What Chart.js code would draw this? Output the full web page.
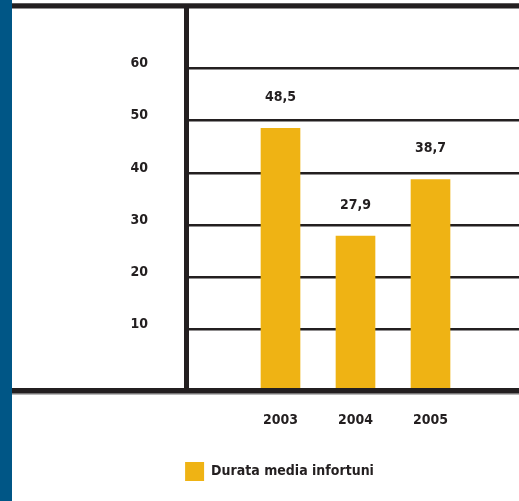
<!DOCTYPE html>
<html>
<head>
<meta charset="utf-8">
<script src="https://cdn.jsdelivr.net/npm/chart.js@4.4.0/dist/chart.umd.min.js"></script>
<style>
  html, body { margin: 0; padding: 0; background: #fff; }
  #wrap { width: 519px; height: 501px; }
</style>
</head>
<body>
<div id="wrap"><canvas id="infortuniChart" width="519" height="501"></canvas></div>
<script>
const years = [2003, 2004, 2005];
const durata = [48.5, 27.9, 38.7];
const yTicks = [10, 20, 30, 40, 50, 60];
const seriesLabel = 'Durata media infortuni';

const ink = '#231f20';
const gold = '#efb314';
const blue = '#005686';
const font = { family: "'Liberation Sans Narrow', 'DejaVu Sans Condensed', sans-serif", weight: 'bold', size: 14 };

const yMin = -1.73;
const yMax = 71.92;

// side strip, frame lines and value labels
const decor = {
    id: 'decor',
    beforeDraw(chart) {
        const ctx = chart.ctx;
        ctx.save();
        ctx.fillStyle = blue;
        ctx.fillRect(0, 0, 12, chart.height);
        ctx.restore();
    },
    afterDatasetsDraw(chart) {
        const ctx = chart.ctx;
        const y = chart.scales.y;
        const area = chart.chartArea;
        ctx.save();
        // top rule
        ctx.fillStyle = '#9a9a9a';
        ctx.fillRect(12, area.top - 3, chart.width - 12, 1);
        ctx.fillStyle = ink;
        ctx.fillRect(12, area.top - 2.5, chart.width - 12, 5);
        // base rule
        const by = y.getPixelForValue(yMin);
        ctx.fillStyle = '#9a9a9a';
        ctx.fillRect(12, by + 2.5, chart.width - 12, 1.2);
        ctx.fillStyle = ink;
        ctx.fillRect(12, by - 3, chart.width - 12, 5.5);

        // values above bars
        const meta = chart.getDatasetMeta(0);
        ctx.font = `${font.weight} ${font.size}px ${font.family}`;
        ctx.fillStyle = ink;
        ctx.textAlign = 'center';
        ctx.textBaseline = 'middle';
        meta.data.forEach((bar, i) => {
            ctx.fillText(durata[i].toFixed(1).replace('.', ','), bar.x, bar.y - 31);
        });
        ctx.restore();
    }
};

new Chart(document.getElementById('infortuniChart'), {
    type: 'bar',
    data: {
        datasets: [{
            label: seriesLabel,
            data: years.map((yr, i) => ({ x: yr, y: durata[i] })),
            backgroundColor: gold,
            borderWidth: 0,
            barThickness: 39,
            base: yMin
        }]
    },
    options: {
        responsive: false,
        animation: false,
        layout: { padding: { left: 40, right: 0, top: 6, bottom: 10 } },
        plugins: {
            tooltip: { enabled: false },
            legend: {
                position: 'bottom',
                labels: {
                    boxWidth: 19,
                    boxHeight: 19,
                    padding: 10,
                    color: ink,
                    font: font
                }
            }
        },
        scales: {
            x: {
                type: 'linear',
                offset: false,
                min: 2001.74,
                max: 2006.18,
                afterBuildTicks: s => { s.ticks = years.map(v => ({ value: v })); },
                afterFit: s => { s.height = 61; s.paddingLeft = 0; s.paddingRight = 0; },
                grid: { display: false, offset: false },
                border: { display: false },
                ticks: {
                    color: ink,
                    font: font,
                    padding: 13,
                    callback: v => String(v)
                }
            },
            y: {
                min: yMin,
                max: yMax,
                afterBuildTicks: s => { s.ticks = yTicks.map(v => ({ value: v })); },
                afterFit: s => { s.width = 146; s.paddingTop = 0; s.paddingBottom = 0; },
                grid: { color: ink, lineWidth: 2.5, drawTicks: false },
                border: { display: true, color: ink, width: 5 },
                ticks: {
                    color: ink,
                    font: font,
                    padding: 38,
                    labelOffset: -5
                }
            }
        }
    },
    plugins: [decor]
});
</script>
</body>
</html>
